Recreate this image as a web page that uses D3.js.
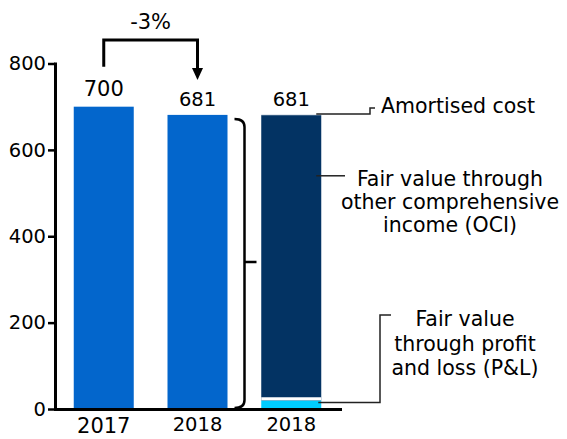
<html>

<head>
    <style>
        body { margin: 0; background: #fff; }
        text { font-family: Verdana, "DejaVu Sans", sans-serif; fill: #000; }
    </style>
</head>

<body>
    <svg id="chart"></svg>
</body>
<script src="https://cdnjs.cloudflare.com/ajax/libs/d3/7.8.5/d3.min.js"></script>
<script>
    // data
    const categories = ["2017", "2018", "2018"];
    const totals = [700, 681, 681];
    const yTicks = [0, 200, 400, 600, 800];
    const breakdownKeys = ["pnl", "oci", "amortised"];
    const breakdown = [20, 660, 1]; // P&L, OCI, amortised cost (sum 681)
    const changeLabel = "-3%";
    const notes = {
        amortised: ["Amortised cost"],
        oci: ["Fair value through", "other comprehensive", "income (OCI)"],
        pnl: ["Fair value", "through profit", "and loss (P&L)"]
    };

    const width = 567,
        height = 439;

    const svg = d3.select('#chart')
        .attr('width', width)
        .attr('height', height);

    const x = d3.scaleBand()
        .domain(d3.range(categories.length))
        .range([55, 340])
        .paddingInner(0.36)
        .paddingOuter(0.2);

    const y = d3.scaleLinear()
        .domain([0, 800])
        .range([409, 63.5]);

    const colors = { single: "#0366cc", pnl: "#00ccff", oci: "#033363", amortised: "#033363" };

    // plain bars (2017, 2018)
    svg.append("g")
        .selectAll("rect")
        .data(totals.slice(0, 2))
        .enter().append("rect")
        .attr("x", (d, i) => x(i))
        .attr("width", x.bandwidth())
        .attr("y", d => y(d))
        .attr("height", d => y(0) - y(d))
        .attr("fill", colors.single);

    // stacked bar (2018 breakdown)
    const stackRow = {};
    breakdownKeys.forEach((k, i) => stackRow[k] = breakdown[i]);
    const series = d3.stack().keys(breakdownKeys)([stackRow]);

    svg.append("g")
        .selectAll("rect")
        .data(series)
        .enter().append("rect")
        .attr("x", x(2))
        .attr("width", x.bandwidth())
        .attr("y", d => y(d[0][1]))
        .attr("height", d => y(d[0][0]) - y(d[0][1]))
        .attr("fill", d => colors[d.key]);

    // gap between P&L and OCI
    svg.append("line")
        .attr("x1", x(2)).attr("x2", x(2) + x.bandwidth())
        .attr("y1", y(breakdown[0]) - 1.5).attr("y2", y(breakdown[0]) - 1.5)
        .attr("stroke", "#fff").attr("stroke-width", 3);

    // value labels
    svg.append("g")
        .selectAll("text")
        .data(totals)
        .enter().append("text")
        .attr("x", (d, i) => x(i) + x.bandwidth() / 2)
        .attr("y", (d, i) => y(d) - (i == 0 ? 11 : 9))
        .attr("text-anchor", "middle")
        .style("font-size", (d, i) => i == 0 ? "21px" : "19.5px")
        .text(d => d);

    // axes
    const yAxis = svg.append("g")
        .attr("transform", "translate(55,0)")
        .call(d3.axisLeft(y).tickValues(yTicks).tickSize(7).tickSizeOuter(0).tickPadding(2));
    yAxis.select(".domain").attr("stroke", "#000").attr("stroke-width", 3).attr("stroke-linecap", "square");
    yAxis.selectAll(".tick line").attr("stroke", "#000").attr("stroke-width", 2.5);
    yAxis.selectAll(".tick text")
        .style("font-size", "19.5px")
        .style("font-family", 'Verdana, "DejaVu Sans", sans-serif')
        .attr("fill", "#000");

    const xAxis = svg.append("g")
        .attr("transform", `translate(0,${y(0)})`)
        .call(d3.axisBottom(x).tickSize(0).tickSizeOuter(0).tickPadding(8).tickFormat(i => categories[i]));
    xAxis.select(".domain").attr("stroke", "#000").attr("stroke-width", 3).attr("stroke-linecap", "square");
    xAxis.selectAll(".tick text")
        .style("font-size", i => i == 0 ? "21px" : "19.5px")
        .style("font-family", 'Verdana, "DejaVu Sans", sans-serif')
        .attr("fill", "#000")
        .attr("dy", i => i == 0 ? "0.78em" : "0.72em");

    // change arrow -3%
    const c0 = x(0) + x.bandwidth() / 2,
        c1 = x(1) + x.bandwidth() / 2,
        arrowTop = 40;
    svg.append("path")
        .attr("d", `M${c0},${y(totals[0]) - 40} V${arrowTop} H${c1} V${y(totals[1]) - 46}`)
        .attr("fill", "none").attr("stroke", "#000").attr("stroke-width", 3);
    svg.append("path")
        .attr("d", `M${c1 - 5.5},${y(totals[1]) - 47} L${c1 + 5.5},${y(totals[1]) - 47} L${c1},${y(totals[1]) - 35} Z`)
        .attr("fill", "#000");
    svg.append("text")
        .attr("x", (c0 + c1) / 2)
        .attr("y", 29)
        .attr("text-anchor", "middle")
        .style("font-size", "21px")
        .text(changeLabel);

    // bracket linking 2018 to its breakdown
    const bx = x(1) + x.bandwidth() + 17,
        bTop = y(totals[1]) + 4,
        bBot = y(0) - 1,
        bMid = y(totals[1] / 2);
    svg.append("path")
        .attr("d", `M${bx - 10},${bTop} Q${bx},${bTop} ${bx},${bTop + 8} V${bBot - 8} Q${bx},${bBot} ${bx - 10},${bBot}` +
            ` M${bx},${bMid} H${bx + 12}`)
        .attr("fill", "none").attr("stroke", "#000").attr("stroke-width", 2.5);

    // annotations
    const barEnd = x(2) + x.bandwidth();
    const leaders = svg.append("g").attr("fill", "none").attr("stroke", "#222").attr("stroke-width", 1.5);

    leaders.append("path")
        .attr("d", `M${barEnd - 5},${y(681) - 1} H370 V${y(681) - 7} H375`);
    leaders.append("path")
        .attr("d", `M${barEnd - 5},${y(540)} H345`);
    leaders.append("path")
        .attr("d", `M${barEnd - 3},${y(15)} H380 V315 H391`);

    svg.append("text")
        .attr("x", 381).attr("y", y(681) - 1.5)
        .style("font-size", "20.5px")
        .text(notes.amortised[0]);

    svg.append("g")
        .selectAll("text")
        .data(notes.oci)
        .enter().append("text")
        .attr("x", 450)
        .attr("y", (d, i) => 186 + i * 23)
        .attr("text-anchor", "middle")
        .style("font-size", "20.5px")
        .text(d => d);

    svg.append("g")
        .selectAll("text")
        .data(notes.pnl)
        .enter().append("text")
        .attr("x", 465)
        .attr("y", (d, i) => 326 + i * 24.5)
        .attr("text-anchor", "middle")
        .style("font-size", "20.5px")
        .text(d => d);
</script>

</html>
